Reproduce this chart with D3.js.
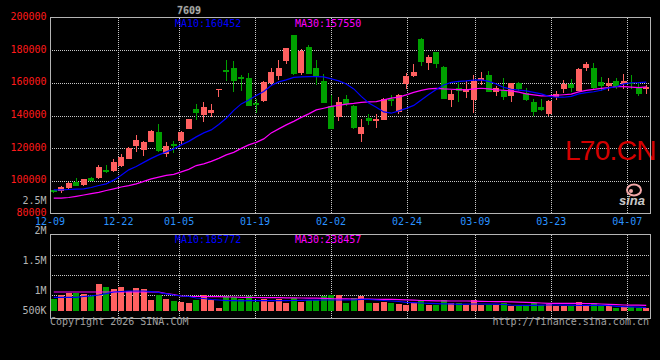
<!DOCTYPE html>
<html>
<head>
<meta charset="utf-8">
<script src="https://cdn.jsdelivr.net/npm/d3@7/dist/d3.min.js"></script>
<style>
  body { margin: 0; background: #000; }
  svg { display: block; }
  text { font-family: "DejaVu Sans Mono", monospace; font-size: 10px; }
</style>
</head>
<body>
<div id="chart"></div>
<script>
// Trading days shown on the chart (MM-DD)
const dates = [
    "12-09", "12-10", "12-11", "12-12", "12-15", "12-16", "12-17", "12-18", "12-19", "12-22",
    "12-23", "12-24", "12-26", "12-29", "12-30", "12-31", "01-02", "01-05", "01-06", "01-07",
    "01-08", "01-09", "01-12", "01-13", "01-14", "01-15", "01-16", "01-19", "01-20", "01-21",
    "01-22", "01-23", "01-26", "01-27", "01-28", "01-29", "01-30", "02-02", "02-03", "02-04",
    "02-05", "02-06", "02-09", "02-10", "02-11", "02-12", "02-13", "02-24", "02-25", "02-26",
    "02-27", "03-02", "03-03", "03-04", "03-05", "03-06", "03-09", "03-10", "03-11", "03-12",
    "03-13", "03-16", "03-17", "03-18", "03-19", "03-20", "03-23", "03-24", "03-25", "03-26",
    "03-27", "03-30", "03-31", "04-01", "04-02", "04-03", "04-07", "04-08", "04-09", "04-10"
];

// OHLC values
const openP = [
    94300, 93870, 95500, 99580, 97740, 101820, 101610, 106510, 106100, 109370,
    113640, 121600, 118740, 123840, 129960, 116700, 122620, 124450, 131790, 144030,
    140360, 141580, 156000, 167880, 169110, 163600, 163180, 147700, 149120, 159730,
    164420, 173590, 189290, 166050, 181950, 168900, 161150, 145860, 139340, 150140,
    145860, 128730, 138320, 136890, 137300, 150140, 142190, 159320, 164210, 186850,
    172160, 178890, 169720, 149530, 156870, 154630, 149530, 161770, 164820, 154430,
    155650, 151980, 159930, 153810, 148310, 145250, 140970, 151370, 156260, 159320,
    155040, 169110, 169110, 160540, 158100, 161150, 159320, 160130, 157480, 156260
];
const highP = [
    94500, 96930, 99370, 101820, 101210, 102430, 109770, 109770, 113240, 116300,
    120990, 128120, 124660, 131180, 134850, 123840, 124450, 130570, 137910, 147080,
    148310, 147080, 156260, 174000, 173390, 164820, 166240, 149940, 161150, 169310,
    173800, 181340, 189290, 180730, 183180, 174000, 165440, 152590, 151570, 152590,
    146270, 137910, 140760, 140760, 150760, 152590, 153200, 166050, 171550, 187460,
    177060, 178890, 170330, 155650, 161150, 161150, 164820, 166660, 167270, 158100,
    162990, 159930, 160540, 156870, 150140, 150140, 149530, 155040, 161770, 162380,
    169110, 172780, 172160, 163600, 162990, 162990, 165440, 164820, 160540, 158710
];
const lowP = [
    92800, 92850, 95300, 97130, 97130, 99980, 101210, 104670, 105490, 108750,
    113240, 117930, 115280, 123840, 117930, 114870, 117320, 122000, 131790, 137500,
    136070, 139130, 151370, 161150, 154430, 155040, 145860, 141380, 148510, 158710,
    161770, 171760, 164820, 164820, 165230, 158710, 147900, 131790, 136690, 145860,
    131590, 123840, 134240, 132610, 137300, 145860, 140970, 156260, 163600, 170330,
    167880, 169110, 150140, 145250, 148310, 150760, 141580, 158710, 154430, 151980,
    149530, 148310, 155040, 148920, 139740, 142800, 139740, 149530, 153810, 154430,
    155040, 167270, 156260, 155040, 155040, 156260, 156260, 156260, 151980, 153200
];
const closeP = [
    93100, 96520, 98960, 97130, 101210, 99980, 108550, 105490, 111610, 114670,
    120170, 125060, 123840, 130570, 118540, 121390, 121390, 129960, 137910, 141580,
    145250, 143410, 156260, 166660, 161150, 162380, 146050, 146680, 160750, 166860,
    169310, 181340, 165230, 179500, 165440, 164210, 147900, 131790, 148510, 147290,
    132200, 133020, 136890, 137710, 150140, 149120, 152590, 164210, 166660, 172780,
    175830, 171550, 150140, 153200, 155240, 156260, 161150, 162990, 154430, 156870,
    151370, 159930, 156260, 149530, 142190, 143410, 148920, 153200, 159320, 156870,
    168490, 171550, 156870, 158100, 159930, 157480, 161150, 159320, 153200, 157480
];

// Moving averages of the price (they start from data before the window)
const ma10 = [
    94500, 94500, 94680, 94920, 95110, 95900, 97120, 98160, 100430, 103490,
    106730, 108750, 111310, 113760, 115900, 117740, 119570, 122020, 124160, 126910,
    129360, 131190, 134550, 138350, 143120, 147090, 149540, 152290, 154740, 158410,
    160550, 161770, 163300, 163610, 163790, 163790, 163610, 162380, 161160, 159320,
    156270, 151680, 147700, 145070, 142200, 141400, 142810, 144340, 146170, 149540,
    152900, 155960, 158710, 160240, 160850, 161160, 161650, 161770, 160850, 159320,
    157180, 156080, 155530, 155040, 154130, 153210, 151680, 151190, 151190, 151680,
    153210, 154000, 154550, 155470, 156880, 157610, 159320, 160060, 160120, 160452
];
const ma30 = [
    89420, 89420, 89790, 90520, 91310, 92170, 92970, 94070, 95110, 96210,
    97060, 98160, 99690, 101220, 102300, 103360, 103970, 105500, 107030, 109360,
    110400, 111930, 113760, 115900, 117430, 119880, 122020, 123550, 125690, 129360,
    131800, 134250, 136390, 138840, 140980, 143420, 144460, 145560, 146180, 146970,
    147400, 148010, 148320, 148500, 149540, 150640, 151250, 152600, 154130, 155350,
    156270, 156570, 156270, 156080, 155840, 155650, 156270, 156690, 156270, 155650,
    155470, 155040, 154310, 153210, 152600, 151990, 151990, 152410, 152720, 153090,
    154430, 155350, 155960, 156570, 157060, 157610, 157670, 157370, 157060, 157550
];

// Volume and its moving averages
const volume = [
    407500, 492500, 557500, 542500, 525000, 467500, 775000, 700000, 650000, 700000,
    607500, 675000, 650000, 375000, 500000, 400000, 350000, 332500, 300000, 375000,
    492500, 375000, 175000, 467500, 442500, 392500, 467500, 332500, 400000, 332500,
    400000, 307500, 425000, 332500, 375000, 375000, 467500, 492500, 492500, 307500,
    425000, 475000, 307500, 307500, 332500, 307500, 275000, 250000, 307500, 375000,
    250000, 250000, 375000, 292500, 292500, 250000, 375000, 250000, 250000, 250000,
    292500, 225000, 225000, 225000, 292500, 250000, 267500, 225000, 225000, 225000,
    325000, 225000, 300000, 225000, 225000, 175000, 207500, 192500, 175000, 175000
];
const volMa10 = [
    442500, 442500, 442500, 442500, 462500, 480000, 500000, 532500, 575000, 587500,
    600000, 600000, 600000, 582500, 562500, 530000, 500000, 475000, 462500, 425000,
    412500, 387500, 375000, 360000, 357500, 355000, 357500, 357500, 360000, 357500,
    357500, 360000, 362500, 367500, 370000, 372500, 375000, 375000, 375000, 375000,
    375000, 392500, 387500, 375000, 362500, 350000, 337500, 317500, 307500, 300000,
    292500, 285000, 280000, 277500, 267500, 272500, 275000, 275000, 272500, 270000,
    262500, 250000, 242500, 242500, 242500, 245000, 250000, 250000, 247500, 245000,
    242500, 242500, 242500, 240000, 237500, 217500, 207500, 205000, 195000, 185772
];
const volMa30 = [
    575000, 575000, 575000, 575000, 575000, 575000, 575000, 575000, 575000, 575000,
    575000, 575000, 575000, 575000, 570000, 537500, 512500, 475000, 465000, 462500,
    462500, 460000, 457500, 455000, 450000, 442500, 440000, 437500, 435000, 432500,
    432500, 430000, 427500, 425000, 422500, 420000, 417500, 407500, 405000, 402500,
    400000, 397500, 395000, 392500, 392500, 392500, 385000, 377500, 370000, 362500,
    357500, 355000, 352500, 350000, 350000, 350000, 345000, 342500, 337500, 335000,
    332500, 327500, 322500, 317500, 310000, 300000, 292500, 292500, 292500, 292500,
    292500, 287500, 282500, 275000, 267500, 260000, 250000, 247500, 245000, 238457
];

// Axis labels
const priceTicks = [200000, 180000, 160000, 140000, 120000, 100000, 80000];
const priceGrid = [180000, 160000, 140000, 120000, 100000];
const tickDates = ["12-09", "12-22", "01-05", "01-19", "02-02", "02-24", "03-09", "03-23", "04-07"];
const volGrid = [500000, 1000000, 1500000];
const volLabelText = ["2.5M", "2M", "1.5M", "1M", "500K"];
const volLabelValues = [2500000, 2000000, 1500000, 1000000, 500000];

const width = 660;
const height = 360;
const left = 50, right = 650;
const mainTop = 17.5, mainBottom = 213.5;
const volTop = 234.5, volBottom = 318.5;

const upColor = "#ff6060";
const downColor = "#00a000";
const gridColor = "#c8c8c8";
const frameColor = "#b4b4b4";

const svg = d3.select("#chart")
    .append("svg")
    .attr("width", width)
    .attr("height", height)
    .style("background", "#000");

// Scales
const x = d3.scaleBand()
    .domain(dates)
    .range([left, right])
    .paddingInner(0.2)
    .paddingOuter(0.1);
// the grid lines are spaced over (n - 1) steps, not the candle bands
const xGrid = d3.scaleLinear()
    .domain([0, dates.length - 1])
    .range([left, right]);
const yPrice = d3.scaleLinear()
    .domain([80000, 200000])
    .range([mainBottom, mainTop]);
const yVol = d3.scaleLinear()
    .domain([100000, 2000000])
    .range([311, 235]);
const yVolLabel = d3.scaleLinear()
    .domain([1000000, 2500000])
    .range([293.5, 203.5]);

const cx = d => x(d) + x.bandwidth() / 2;
const crisp = v => Math.round(v) + 0.5;
const tickIdx = tickDates.map(t => dates.indexOf(t));

// Clip paths for both panes
const defs = svg.append("defs");
defs.append("clipPath").attr("id", "clipMain")
    .append("rect").attr("x", left).attr("y", mainTop)
    .attr("width", right - left).attr("height", mainBottom - mainTop);
defs.append("clipPath").attr("id", "clipVol")
    .append("rect").attr("x", left).attr("y", volTop)
    .attr("width", right - left).attr("height", volBottom - volTop);

// Grid lines
function drawGrid(ys, top, bottom) {
    const g = svg.append("g")
        .attr("stroke", gridColor)
        .attr("stroke-width", 1)
        .attr("stroke-dasharray", "1,1")
        .attr("shape-rendering", "crispEdges");
    g.selectAll("line.h")
        .data(ys)
        .enter().append("line")
        .attr("class", "h")
        .attr("x1", left).attr("x2", right)
        .attr("y1", d => crisp(d)).attr("y2", d => crisp(d));
    g.selectAll("line.v")
        .data(tickIdx.slice(1))
        .enter().append("line")
        .attr("class", "v")
        .attr("x1", d => crisp(xGrid(d))).attr("x2", d => crisp(xGrid(d)))
        .attr("y1", top).attr("y2", bottom);
}
drawGrid(priceGrid.map(yPrice), mainTop, mainBottom);
drawGrid(volGrid.map(yVol), volTop, volBottom);

// Watermark: symbol name and sina logo
svg.append("text")
    .attr("x", 565)
    .attr("y", 160)
    .attr("fill", "#d40000")
    .style("font-family", "'Liberation Sans', Arial, sans-serif")
    .style("font-size", "28px")
    .style("letter-spacing", "-0.7px")
    .text("L70.CN");

const logo = svg.append("g");
logo.append("ellipse")
    .attr("cx", 634).attr("cy", 190).attr("rx", 7).attr("ry", 5.5)
    .attr("fill", "none").attr("stroke", "#f2a8a8").attr("stroke-width", 2);
logo.append("circle")
    .attr("cx", 631).attr("cy", 191).attr("r", 2)
    .attr("fill", "#f2a8a8");
logo.append("text")
    .attr("x", 619).attr("y", 205)
    .attr("fill", "#c8c8c8")
    .style("font-family", "'Liberation Sans', Arial, sans-serif")
    .style("font-size", "13px")
    .style("font-weight", "bold")
    .style("font-style", "italic")
    .text("sina");

// Candlesticks
const candles = svg.append("g")
    .attr("clip-path", "url(#clipMain)")
    .attr("shape-rendering", "crispEdges");

const candleData = dates.map((d, i) => ({
    date: d,
    open: openP[i], high: highP[i], low: lowP[i], close: closeP[i],
    up: closeP[i] >= openP[i]
}));

candles.selectAll("line.wick")
    .data(candleData)
    .enter().append("line")
    .attr("class", "wick")
    .attr("x1", d => crisp(cx(d.date) - 0.5))
    .attr("x2", d => crisp(cx(d.date) - 0.5))
    .attr("y1", d => yPrice(d.high))
    .attr("y2", d => yPrice(d.low))
    .attr("stroke", d => d.up ? upColor : downColor);

candles.selectAll("rect.body")
    .data(candleData)
    .enter().append("rect")
    .attr("class", "body")
    .attr("x", d => Math.round(x(d.date)))
    .attr("width", Math.round(x.bandwidth()))
    .attr("y", d => yPrice(Math.max(d.open, d.close)))
    .attr("height", d => Math.max(1.5, Math.abs(yPrice(d.open) - yPrice(d.close))))
    .attr("fill", d => d.up ? upColor : downColor);

// Moving average lines
function drawLine(values, yScale, color, clip) {
    svg.append("path")
        .datum(values)
        .attr("clip-path", clip)
        .attr("fill", "none")
        .attr("stroke", color)
        .attr("stroke-width", 1.2)
        .attr("d", d3.line()
            .x((d, i) => cx(dates[i]))
            .y(d => yScale(d)));
}
drawLine(ma30, yPrice, "#ff00ff", "url(#clipMain)");
drawLine(ma10, yPrice, "#0000ff", "url(#clipMain)");

// Volume bars
const vols = svg.append("g")
    .attr("clip-path", "url(#clipVol)")
    .attr("shape-rendering", "crispEdges");
vols.selectAll("rect")
    .data(candleData)
    .enter().append("rect")
    .attr("x", d => Math.round(x(d.date)))
    .attr("width", Math.round(x.bandwidth()))
    .attr("y", (d, i) => yVol(volume[i]))
    .attr("height", (d, i) => yVol(100000) - yVol(volume[i]))
    .attr("fill", d => d.up ? upColor : downColor);

drawLine(volMa30, yVol, "#ff00ff", "url(#clipVol)");
drawLine(volMa10, yVol, "#0000ff", "url(#clipVol)");

// Pane frames
svg.selectAll("rect.frame")
    .data([[mainTop, mainBottom], [volTop, volBottom]])
    .enter().append("rect")
    .attr("class", "frame")
    .attr("x", left + 0.5)
    .attr("y", d => d[0])
    .attr("width", right - left)
    .attr("height", d => d[1] - d[0])
    .attr("fill", "none")
    .attr("stroke", frameColor)
    .attr("stroke-width", 1);

// Price labels
svg.append("g")
    .selectAll("text")
    .data(priceTicks)
    .enter().append("text")
    .attr("x", 46.5)
    .attr("y", d => yPrice(d) + 2.5)
    .attr("text-anchor", "end")
    .attr("fill", "#ff1a1a")
    .text(d => d);

// Date labels
svg.append("g")
    .selectAll("text")
    .data(tickDates)
    .enter().append("text")
    .attr("x", (d, i) => xGrid(tickIdx[i]))
    .attr("y", 225)
    .attr("text-anchor", "middle")
    .attr("fill", "#2a92ff")
    .text(d => d);

// Volume labels
svg.append("g")
    .selectAll("text")
    .data(volLabelText)
    .enter().append("text")
    .attr("x", 46.5)
    .attr("y", (d, i) => Math.min(yVolLabel(volLabelValues[i]), 313.5))
    .attr("text-anchor", "end")
    .attr("fill", "#b4b4b4")
    .text(d => d);

// Moving average captions
const captions = [
    { x: 175, y: 27.3, text: "MA10:" + ma10[ma10.length - 1], color: "#0000ff" },
    { x: 295, y: 27.3, text: "MA30:" + ma30[ma30.length - 1], color: "#ff00ff" },
    { x: 175, y: 242.5, text: "MA10:" + volMa10[volMa10.length - 1], color: "#0000ff" },
    { x: 295, y: 242.5, text: "MA30:" + volMa30[volMa30.length - 1], color: "#ff00ff" }
];
svg.append("g")
    .selectAll("text")
    .data(captions)
    .enter().append("text")
    .attr("x", d => d.x)
    .attr("y", d => d.y)
    .attr("fill", d => d.color)
    .text(d => d.text);

// Title and footer
svg.append("text")
    .attr("x", 189).attr("y", 14)
    .attr("text-anchor", "middle")
    .attr("fill", "#c8c8c8")
    .attr("stroke", "#555")
    .attr("stroke-width", 0.4)
    .style("font-weight", "bold")
    .text("7609");

svg.append("text")
    .attr("x", left).attr("y", 325)
    .attr("fill", "#a0a0a0")
    .text("Copyright 2026 SINA.COM");

svg.append("text")
    .attr("x", right - 1).attr("y", 325)
    .attr("text-anchor", "end")
    .attr("fill", "#a0a0a0")
    .text("http://finance.sina.com.cn");
</script>
</body>
</html>
